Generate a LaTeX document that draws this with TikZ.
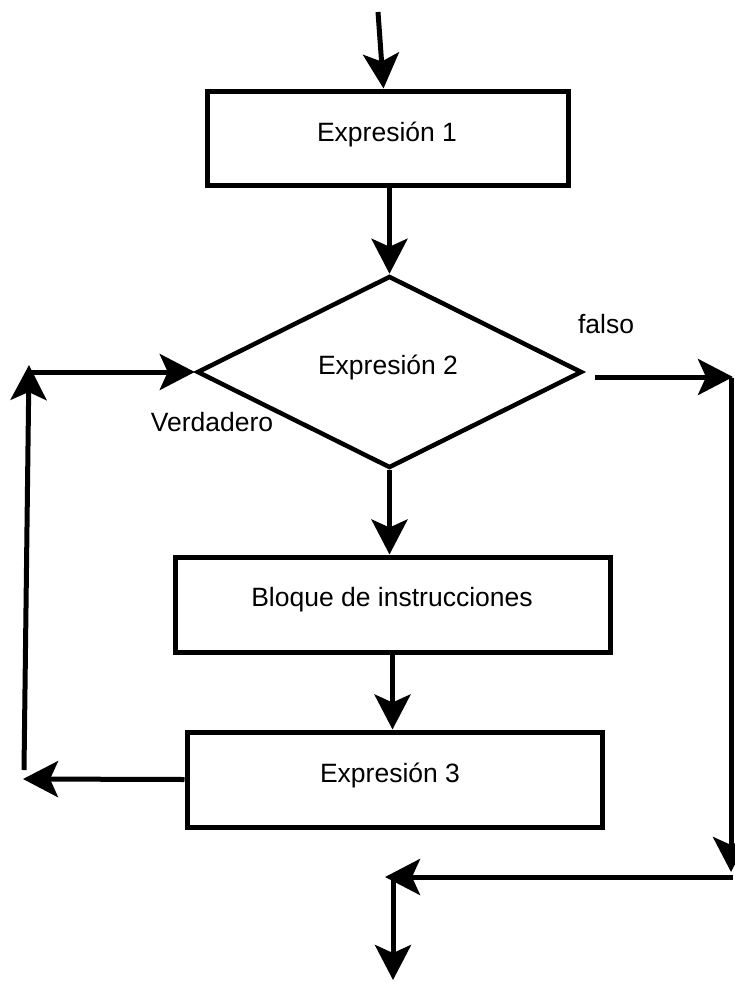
\documentclass[tikz,border=0pt]{standalone}
\usepackage{fontspec}
\setmainfont{Liberation Sans}
\usetikzlibrary{arrows.meta,shapes.geometric}
\begin{document}
\begin{tikzpicture}[x=1pt,y=-1pt,
  lw/.style={line width=5pt},
  arr/.style={lw,-{Stealth[length=35pt,width=36pt,inset=8pt]}},
  box/.style={draw,lw,rectangle,inner sep=0pt},
  dia/.style={draw,line width=4.5pt,diamond,inner sep=0pt},
  lab/.style={font=\fontsize{26.5}{30}\selectfont,inner sep=0pt}]
\useasboundingbox (0,0) rectangle (735,982);
\node[box,minimum width=361pt,minimum height=94pt] (e1) at (387.5,138) {};
\node[lab] (e1t) at (387,134) {Expresión 1};
\node[dia,minimum width=385pt,minimum height=192pt,aspect=2] (d) at (389.5,372) {};
\node[lab] (d2t) at (388,367) {Expresión 2};
\node[box,minimum width=435pt,minimum height=95pt] (b) at (392.5,604.5) {};
\node[lab] (bt) at (392,600) {Bloque de instrucciones};
\node[box,minimum width=415pt,minimum height=95pt] (e3) at (394.5,779.5) {};
\node[lab] (e3t) at (390,775) {Expresión 3};
\node[lab] (fal) at (606,324) {falso};
\node[lab] (ver) at (212,422) {Verdadero};
% coordinates
\coordinate (in) at (378,12);
\coordinate (lt) at (29,365);
\coordinate (lb) at (24,770);
\coordinate (lh) at (29,372);
\coordinate (l3) at (23,779);
\coordinate (rs) at (595,377);
\coordinate (rt) at (733,377);
\coordinate (rv1) at (731,378);
\coordinate (rv2) at (731,872);
\coordinate (bh1) at (733,877);
\coordinate (bh2) at (385,877);
\coordinate (bv1) at (393,877);
\coordinate (out) at (393,980);
% connectors
\draw[arr] (in) -- ([xshift=-4pt]e1.north);
\draw[arr] (e1.south) -- (e1.south -| d.north) -- (d.north);
\draw[arr] (d.south) -- (d.south |- b.north);
\draw[arr] (b.south) -- (b.south |- e3.north);
\draw[arr] (e3.west) -- (l3);
\draw[arr] (lb) -- (lt);
\draw[arr] (lh) -- (d.west);
\draw[arr] (rs) -- (rt);
\draw[arr] (rv1) -- (rv2);
\draw[arr] (bh1) -- (bh2);
\draw[arr] (bv1) -- (out);
\end{tikzpicture}
\end{document}
